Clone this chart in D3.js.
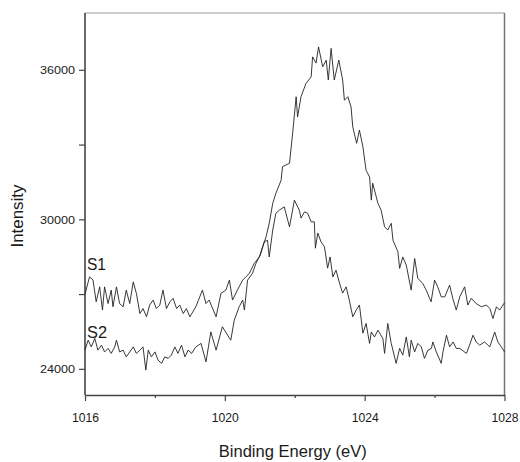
<!DOCTYPE html>
<html>
<head>
<meta charset="utf-8">
<script src="https://cdn.jsdelivr.net/npm/d3@7"></script>
<style>
    body { margin: 0; background: #fff; }
    text { font-family: "Liberation Sans", Arial, sans-serif; fill: #1a1a1a; }
</style>
</head>
<body>
<div id="chart"></div>
<script>
// S1 spectrum (eV, counts)
const s1Energy = [1016.00, 1016.13, 1016.23, 1016.32, 1016.42, 1016.50, 1016.56, 1016.66, 1016.75, 1016.80,
    1016.90, 1016.99, 1017.09, 1017.18, 1017.28, 1017.38, 1017.47, 1017.57, 1017.66, 1017.76,
    1017.85, 1017.95, 1018.04, 1018.14, 1018.23, 1018.33, 1018.43, 1018.52, 1018.62, 1018.71,
    1018.81, 1018.90, 1019.00, 1019.17, 1019.36, 1019.46, 1019.55, 1019.75, 1019.89, 1020.03,
    1020.13, 1020.22, 1020.36, 1020.51, 1020.60, 1020.70, 1020.84, 1020.99, 1021.08, 1021.18,
    1021.27, 1021.37, 1021.46, 1021.61, 1021.65, 1021.85, 1021.94, 1022.04, 1022.08, 1022.18,
    1022.32, 1022.47, 1022.51, 1022.61, 1022.68, 1022.80, 1022.90, 1022.96, 1023.04, 1023.13,
    1023.26, 1023.37, 1023.42, 1023.52, 1023.61, 1023.66, 1023.77, 1023.85, 1023.95, 1024.04,
    1024.14, 1024.19, 1024.23, 1024.38, 1024.47, 1024.57, 1024.66, 1024.76, 1024.81, 1024.95,
    1025.00, 1025.09, 1025.19, 1025.33, 1025.43, 1025.52, 1025.66, 1025.76, 1025.90, 1026.00,
    1026.09, 1026.19, 1026.29, 1026.43, 1026.52, 1026.62, 1026.72, 1026.86, 1026.95, 1027.05,
    1027.19, 1027.34, 1027.48, 1027.58, 1027.67, 1027.77, 1027.86, 1028.00];
const s1Counts = [27000, 27690, 27560, 26690, 27290, 26360, 27290, 26620, 27160, 26490,
    27290, 26620, 26490, 27160, 26620, 27490, 27030, 26220, 26420, 26090,
    26560, 26760, 26420, 26560, 27160, 26420, 26690, 26830, 26420, 26560,
    26220, 26420, 26090, 26490, 27160, 26620, 26760, 26090, 27030, 27160,
    27560, 26760, 27160, 27560, 27690, 27830, 28230, 28490, 28900, 29300,
    29840, 30640, 31040, 31570, 32110, 32250, 33460, 34920, 34110, 34920,
    35450, 35720, 36520, 36270, 36920, 36120, 36390, 35590, 36860, 35590,
    36390, 35590, 34780, 34920, 34510, 33710, 33050, 33580, 32910, 31970,
    31700, 30770, 31450, 30640, 30370, 29700, 29570, 29840, 29160, 28700,
    28030, 28490, 28160, 27160, 28430, 27630, 27430, 27160, 26690, 27560,
    27290, 26890, 26890, 27360, 26830, 26360, 26890, 27290, 26560, 26830,
    26620, 26490, 26560, 26420, 26020, 26490, 26360, 26650];

// S2 spectrum
const s2Energy = [1016.00, 1016.09, 1016.18, 1016.28, 1016.37, 1016.47, 1016.56, 1016.66, 1016.75, 1016.85,
    1016.90, 1016.99, 1017.09, 1017.18, 1017.28, 1017.38, 1017.47, 1017.57, 1017.66, 1017.74,
    1017.81, 1017.90, 1018.00, 1018.09, 1018.19, 1018.28, 1018.38, 1018.47, 1018.57, 1018.66,
    1018.76, 1018.86, 1018.95, 1019.05, 1019.17, 1019.32, 1019.46, 1019.60, 1019.75, 1019.93,
    1020.17, 1020.27, 1020.41, 1020.51, 1020.56, 1020.65, 1020.79, 1020.89, 1021.03, 1021.13,
    1021.22, 1021.27, 1021.37, 1021.46, 1021.56, 1021.70, 1021.85, 1021.99, 1022.13, 1022.18,
    1022.28, 1022.37, 1022.47, 1022.56, 1022.59, 1022.66, 1022.75, 1022.85, 1022.94, 1023.01,
    1023.09, 1023.18, 1023.28, 1023.37, 1023.47, 1023.56, 1023.66, 1023.76, 1023.85, 1023.95,
    1024.04, 1024.14, 1024.19, 1024.28, 1024.38, 1024.52, 1024.57, 1024.66, 1024.76, 1024.90,
    1025.00, 1025.09, 1025.19, 1025.28, 1025.33, 1025.43, 1025.52, 1025.62, 1025.71, 1025.81,
    1025.91, 1025.95, 1026.05, 1026.19, 1026.24, 1026.34, 1026.43, 1026.53, 1026.62, 1026.72,
    1026.91, 1027.00, 1027.10, 1027.19, 1027.29, 1027.43, 1027.58, 1027.72, 1027.81, 1027.91,
    1028.00];
const s2Counts = [24750, 25150, 24880, 25220, 24750, 24950, 24680, 24820, 24620, 24880,
    25150, 24680, 24750, 24480, 24680, 24880, 24620, 24750, 24880, 23950,
    24750, 24480, 24680, 24350, 24220, 24480, 24420, 24550, 24880, 24620,
    24950, 24480, 24750, 24620, 24880, 25020, 24280, 25480, 24750, 25690,
    25150, 25950, 26490, 26760, 26360, 27560, 27830, 28230, 28630, 29100,
    29160, 28490, 29570, 30240, 30370, 30500, 29700, 30770, 30370, 30050,
    30300, 30240, 29900, 29900, 28840, 29450, 29100, 28900, 28040, 28490,
    27690, 27960, 27440, 27040, 27290, 26760, 26090, 26360, 26560, 25430,
    25820, 25020, 25480, 25280, 25550, 25220, 24620, 25820, 25020, 24220,
    24820, 24550, 25280, 24480, 25150, 24680, 25020, 24880, 24420, 24750,
    24820, 25080, 24680, 24220, 24680, 25350, 24880, 25080, 24820, 24820,
    24620, 24950, 25350, 25080, 24950, 25080, 24880, 25480, 25080, 24880,
    24680];

const xTicks = [1016, 1018, 1020, 1022, 1024, 1026, 1028];
const xLabels = ["1016", "", "1020", "", "1024", "", "1028"];
const yTicks = [24000, 27000, 30000, 33000, 36000];
const yLabels = ["24000", "", "30000", "", "36000"];

const margin = {top: 13, right: 15.5, bottom: 67, left: 85};
const width = 520 - margin.left - margin.right;
const height = 462 - margin.top - margin.bottom;

const svg = d3.select("#chart").append("svg")
    .attr("width", 520)
    .attr("height", 462)
    .append("g")
    .attr("transform", `translate(${margin.left}, ${margin.top})`);

const x = d3.scaleLinear().domain([1016, 1028]).range([0, width]);
const y = d3.scaleLinear().domain([22950, 38280]).range([height, 0]);

// frame: top and right are lighter
svg.append("line")
    .attr("x1", 0).attr("x2", width).attr("y1", 0).attr("y2", 0)
    .style("stroke", "#9a9a9a").style("stroke-width", 1);
svg.append("line")
    .attr("x1", width).attr("x2", width).attr("y1", 0).attr("y2", height)
    .style("stroke", "#777").style("stroke-width", 1.5);

// x axis
const xAxis = svg.append("g")
    .attr("transform", `translate(0, ${height})`)
    .call(d3.axisBottom(x).tickValues(xTicks).tickFormat((d, i) => xLabels[i]).tickSize(6).tickSizeOuter(0));
xAxis.select(".domain").style("stroke", "#444").style("stroke-width", 1.6);
xAxis.selectAll(".tick line").style("stroke", "#444").style("stroke-width", 1.2)
    .attr("y2", (d, i) => xLabels[i] ? 6 : 3);
xAxis.selectAll(".tick text")
    .attr("y", 27)
    .attr("dy", 0)
    .style("font-size", "12.5px")
    .attr("textLength", (d, i) => xLabels[i] ? 27 : null)
    .attr("lengthAdjust", "spacingAndGlyphs");

// y axis
const yAxis = svg.append("g")
    .call(d3.axisLeft(y).tickValues(yTicks).tickFormat((d, i) => yLabels[i]).tickSize(6).tickSizeOuter(0));
yAxis.select(".domain").style("stroke", "#444").style("stroke-width", 1.6)
    .attr("d", `M0,0V${height}`);
yAxis.selectAll(".tick line").style("stroke", "#444").style("stroke-width", 1.2);
yAxis.selectAll(".tick text")
    .attr("x", -10)
    .attr("dy", "0.36em")
    .style("font-size", "11.5px")
    .attr("textLength", (d, i) => yLabels[i] ? 35 : null)
    .attr("lengthAdjust", "spacingAndGlyphs");

// spectra
const line = d3.line()
    .x(d => x(d[0]))
    .y(d => y(d[1]));

const series = [
    d3.zip(s1Energy, s1Counts),
    d3.zip(s2Energy, s2Counts)
];

svg.selectAll(".spectrum")
    .data(series)
    .enter()
    .append("path")
    .attr("class", "spectrum")
    .attr("d", line)
    .style("fill", "none")
    .style("stroke", "#222")
    .style("stroke-width", 0.9)
    .style("stroke-linejoin", "round");

// series labels
svg.append("text")
    .attr("x", 2).attr("y", 257)
    .style("font-size", "16px")
    .attr("textLength", 19)
    .attr("lengthAdjust", "spacingAndGlyphs")
    .text("S1");
svg.append("text")
    .attr("x", 2).attr("y", 325)
    .style("font-size", "16px")
    .attr("textLength", 20)
    .attr("lengthAdjust", "spacingAndGlyphs")
    .text("S2");

// axis titles
svg.append("text")
    .attr("x", width / 2 - 2)
    .attr("y", height + 62)
    .attr("text-anchor", "middle")
    .style("font-size", "16px")
    .attr("textLength", 148)
    .attr("lengthAdjust", "spacingAndGlyphs")
    .text("Binding Energy (eV)");

svg.append("text")
    .attr("transform", `translate(-62, ${height / 2 + 12}) rotate(-90)`)
    .attr("text-anchor", "middle")
    .style("font-size", "16px")
    .attr("textLength", 63)
    .attr("lengthAdjust", "spacingAndGlyphs")
    .text("Intensity");
</script>
</body>
</html>
